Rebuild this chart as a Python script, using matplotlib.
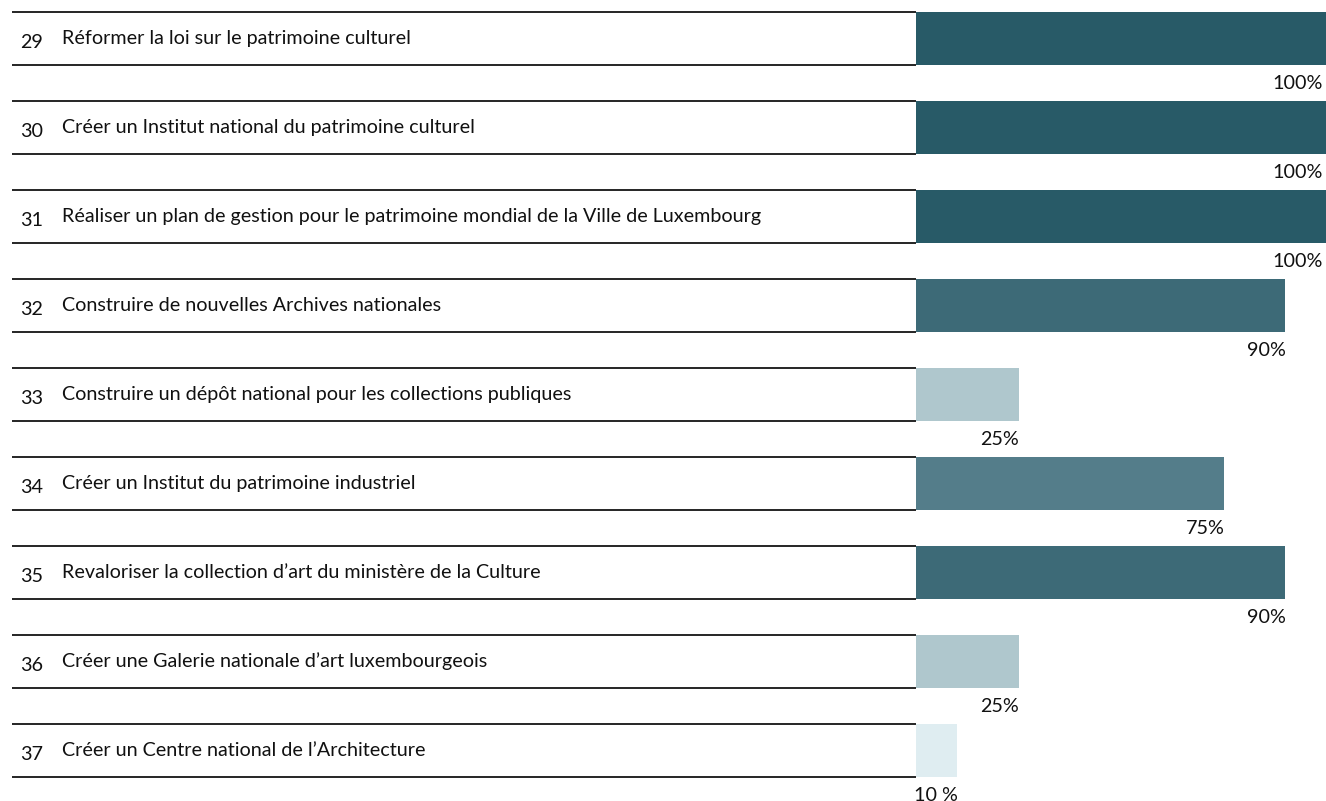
import matplotlib
matplotlib.use("Agg")
import matplotlib.pyplot as plt

numbers = ["29", "30", "31", "32", "33", "34", "35", "36", "37"]
labels = [
    "Réformer la loi sur le patrimoine culturel",
    "Créer un Institut national du patrimoine culturel",
    "Réaliser un plan de gestion pour le patrimoine mondial de la Ville de Luxembourg",
    "Construire de nouvelles Archives nationales",
    "Construire un dépôt national pour les collections publiques",
    "Créer un Institut du patrimoine industriel",
    "Revaloriser la collection d\u2019art du ministère de la Culture",
    "Créer une Galerie nationale d\u2019art luxembourgeois",
    "Créer un Centre national de l\u2019Architecture",
]
values = [100, 100, 100, 90, 25, 75, 90, 25, 10]
value_labels = ["100%", "100%", "100%", "90%", "25%", "75%", "90%", "25%", "10 %"]
colors = ["#285A67", "#285A67", "#285A67", "#3D6A77", "#AFC7CD",
          "#547D8A", "#3D6A77", "#AFC7CD", "#DFEDF1"]

plt.rcParams['font.family'] = ['Lato', 'DejaVu Sans']

W, H = 1326, 801
fig = plt.figure(figsize=(W / 100, H / 100), dpi=100)
ax = fig.add_axes([0, 0, 1, 1])

# pixel geometry
x0_px, x100_px = 916, 1326
ppu = (x100_px - x0_px) / 100.0
row_px = 89.0
center0_px = 38.5
bar_h = 53.0 / row_px

ax.set_xlim(-x0_px / ppu, (W - x0_px) / ppu)
ax.set_ylim((H - center0_px) / row_px, -center0_px / row_px)
ax.axis("off")

ys = list(range(len(values)))
ax.barh(ys, values, height=bar_h, left=0, color=colors, edgecolor="none")

line_left = (12 - x0_px) / ppu
for y in ys:
    ax.hlines([y - bar_h / 2, y + bar_h / 2], line_left, 0, color="black", lw=1.2)

fs = 14.2
for y, n, lab, v, vl in zip(ys, numbers, labels, values, value_labels):
    ax.text((20 - x0_px) / ppu, y + 0.04, n, ha="left", va="center", fontsize=fs, color="#111111")
    ax.text((62 - x0_px) / ppu, y + 0.0, lab, ha="left", va="center", fontsize=fs, color="#111111")
    ax.text(min(v + 0.2, 99.3), y + 0.5, vl, ha="right", va="center", fontsize=fs, color="#111111")

fig.savefig("out.png", dpi=100)
